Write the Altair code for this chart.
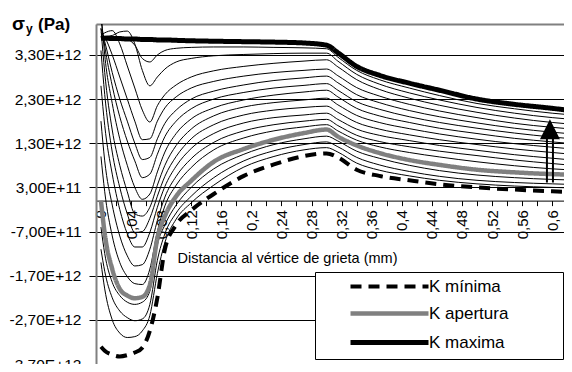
import altair as alt
import pandas as pd

# ---------------- data (stress in units of 1E+12 Pa) ----------------
x_mm = [0, 0.005, 0.015, 0.025, 0.035, 0.045, 0.055, 0.065, 0.075, 0.085, 0.10, 0.12, 0.15,
        0.19, 0.23, 0.27, 0.30, 0.315, 0.34, 0.37, 0.41, 0.45, 0.50, 0.55, 0.60, 0.62]

k_maxima = [3.67, 3.68, 3.67, 3.67, 3.66, 3.66, 3.65, 3.65, 3.64, 3.64, 3.63, 3.62, 3.61,
            3.60, 3.59, 3.57, 3.52, 3.35, 3.04, 2.84, 2.66, 2.50, 2.30, 2.18, 2.09, 2.05]
k_apertura = [0.0, -0.75, -1.55, -2.0, -2.15, -2.21, -2.18, -1.91, -0.85, -0.35, 0.10, 0.45, 0.88,
              1.17, 1.38, 1.53, 1.61, 1.45, 1.25, 1.08, 0.92, 0.81, 0.70, 0.64, 0.60, 0.59]
k_minima = [-3.31, -3.40, -3.49, -3.53, -3.50, -3.44, -3.33, -2.95, -2.20, -1.10, -0.55, -0.22, 0.15,
            0.56, 0.82, 1.01, 1.07, 0.98, 0.70, 0.56, 0.46, 0.37, 0.30, 0.25, 0.21, 0.20]

c1 = [3.70, 3.70, 3.70, 3.70, 3.66, 3.52, 3.22, 3.14, 3.30, 3.40, 3.45, 3.47, 3.48, 3.48, 3.47, 3.46, 3.44, 3.25, 2.95, 2.74, 2.55, 2.38, 2.20, 2.08, 1.98, 1.95]
c2 = [3.72, 3.72, 3.74, 3.82, 3.84, 3.55, 2.95, 2.60, 2.80, 2.98, 3.14, 3.22, 3.28, 3.31, 3.33, 3.34, 3.34, 3.16, 2.86, 2.64, 2.44, 2.28, 2.11, 1.98, 1.88, 1.85]
c3 = [3.75, 3.80, 3.85, 3.55, 3.05, 2.55, 2.05, 1.78, 2.15, 2.40, 2.62, 2.80, 2.94, 3.04, 3.11, 3.16, 3.19, 3.03, 2.74, 2.52, 2.32, 2.16, 2.00, 1.87, 1.77, 1.74]
c4 = [3.80, 3.70, 3.30, 2.80, 2.30, 1.80, 1.38, 1.40, 1.80, 2.10, 2.35, 2.55, 2.70, 2.82, 2.90, 2.95, 2.98, 2.83, 2.56, 2.37, 2.18, 2.03, 1.88, 1.75, 1.66, 1.63]
c5 = [3.90, 3.60, 2.90, 2.30, 1.80, 1.30, 0.93, 0.98, 1.40, 1.75, 2.05, 2.30, 2.48, 2.62, 2.72, 2.78, 2.82, 2.67, 2.40, 2.22, 2.04, 1.90, 1.76, 1.64, 1.55, 1.52]
c6 = [4.10, 3.50, 2.60, 1.90, 1.35, 0.90, 0.52, 0.60, 1.05, 1.45, 1.80, 2.08, 2.30, 2.45, 2.55, 2.61, 2.65, 2.50, 2.24, 2.07, 1.90, 1.77, 1.64, 1.53, 1.44, 1.41]
c7 = [4.30, 3.30, 2.20, 1.40, 0.80, 0.30, 0.03, 0.15, 0.65, 1.10, 1.52, 1.85, 2.10, 2.28, 2.39, 2.46, 2.50, 2.35, 2.09, 1.92, 1.77, 1.64, 1.52, 1.41, 1.33, 1.30]
c8 = [3.90, 2.90, 1.60, 0.80, 0.20, -0.30, -0.35, -0.15, 0.35, 0.80, 1.25, 1.62, 1.92, 2.12, 2.22, 2.28, 2.32, 2.17, 1.93, 1.77, 1.63, 1.51, 1.39, 1.29, 1.21, 1.18]
c9 = [3.40, 2.40, 1.10, 0.30, -0.30, -0.72, -0.70, -0.40, 0.10, 0.55, 1.00, 1.40, 1.72, 1.94, 2.05, 2.11, 2.14, 2.00, 1.77, 1.62, 1.49, 1.38, 1.27, 1.17, 1.09, 1.06]
c10 = [2.60, 1.70, 0.60, -0.20, -0.75, -1.05, -1.05, -0.72, -0.15, 0.32, 0.78, 1.18, 1.52, 1.76, 1.88, 1.94, 1.98, 1.84, 1.62, 1.48, 1.36, 1.25, 1.14, 1.04, 0.96, 0.93]
c11 = [1.80, 0.90, -0.10, -0.80, -1.25, -1.48, -1.45, -1.10, -0.45, 0.08, 0.55, 0.95, 1.32, 1.58, 1.72, 1.80, 1.84, 1.70, 1.48, 1.34, 1.22, 1.12, 1.02, 0.92, 0.84, 0.81]
c12 = [1.00, 0.20, -0.80, -1.40, -1.72, -1.88, -1.90, -1.55, -0.70, -0.12, 0.35, 0.75, 1.15, 1.42, 1.58, 1.67, 1.72, 1.58, 1.37, 1.22, 1.09, 0.99, 0.88, 0.79, 0.72, 0.70]
c13 = [-0.60, -1.20, -1.85, -2.15, -2.30, -2.35, -2.30, -2.05, -1.00, -0.55, -0.10, 0.30, 0.72, 1.05, 1.27, 1.40, 1.46, 1.35, 1.12, 0.96, 0.80, 0.68, 0.58, 0.52, 0.48, 0.47]
c14 = [-1.10, -1.60, -2.20, -2.50, -2.65, -2.72, -2.68, -2.35, -1.35, -0.75, -0.28, 0.10, 0.52, 0.90, 1.13, 1.27, 1.33, 1.22, 0.98, 0.81, 0.66, 0.55, 0.46, 0.41, 0.38, 0.37]
c15 = [-1.40, -2.00, -2.70, -3.00, -3.10, -3.08, -2.95, -2.60, -1.65, -0.95, -0.42, -0.05, 0.35, 0.76, 1.00, 1.15, 1.20, 1.10, 0.85, 0.69, 0.56, 0.46, 0.38, 0.33, 0.30, 0.29]

thin_curves = [c1, c2, c3, c4, c5, c6, c7, c8, c9, c10, c11, c12, c13, c14, c15]

series_names = ["K mínima", "K apertura", "K maxima"]

y_tick_values = [4.0, 3.3, 2.3, 1.3, 0.3, -0.7, -1.7, -2.7, -3.7]
y_tick_labels = ["", "3,30E+12", "2,30E+12", "1,30E+12", "3,00E+11", "-7,00E+11",
                 "-1,70E+12", "-2,70E+12", "-3,70E+12"]

x_tick_values = [0, 0.02, 0.04, 0.06, 0.08, 0.10, 0.12, 0.14, 0.16, 0.18, 0.20, 0.22, 0.24, 0.26,
                 0.28, 0.30, 0.32, 0.34, 0.36, 0.38, 0.40, 0.42, 0.44, 0.46, 0.48, 0.50, 0.52,
                 0.54, 0.56, 0.58, 0.60]
x_label_values = [0, 0.04, 0.08, 0.12, 0.16, 0.2, 0.24, 0.28, 0.32, 0.36, 0.4, 0.44, 0.48, 0.52, 0.56, 0.6]
x_label_texts = ["0", "0,04", "0,08", "0,12", "0,16", "0,2", "0,24", "0,28", "0,32", "0,36",
                 "0,4", "0,44", "0,48", "0,52", "0,56", "0,6"]

# arrow annotation (data coordinates)
arrow_shaft_x = [0.593, 0.601]
arrow_shaft_from = 0.41
arrow_shaft_to = 1.42
arrow_head_x = [0.597]
arrow_head_y = [1.615]

# ---------------- tables ----------------
thin_rows = []
for i, ys in enumerate(thin_curves):
    for xv, yv in zip(x_mm, ys):
        thin_rows.append({"x": xv, "y": yv, "curva": f"c{i + 1:02d}"})
thin_df = pd.DataFrame(thin_rows)

hl_rows = []
for name, ys in zip(series_names, [k_minima, k_apertura, k_maxima]):
    for xv, yv in zip(x_mm, ys):
        hl_rows.append({"x": xv, "y": yv, "serie": name})
hl_df = pd.DataFrame(hl_rows)

shaft_df = pd.DataFrame({"x": arrow_shaft_x, "y0": [arrow_shaft_from] * 2, "y1": [arrow_shaft_to] * 2})
head_df = pd.DataFrame({"x": arrow_head_x, "y": arrow_head_y})

FONT = "Liberation Sans"

x_scale = alt.Scale(domain=[-0.0066, 0.6157], nice=False, zero=False)
y_scale = alt.Scale(domain=[-3.7, 4.0], nice=False, zero=False)

y_label_expr = "".join(f"datum.value == {v} ? '{s}' : " for v, s in zip(y_tick_values, y_tick_labels)) + "''"
x_label_expr = "".join(f"datum.value == {v} ? '{s}' : " for v, s in zip(x_label_values, x_label_texts)) + "''"

PLOT_H = 340
zero_px = PLOT_H * 4.0 / 7.7

x_axis = alt.Axis(
    values=x_tick_values, tickCount=60, labelExpr=x_label_expr, labelAngle=270, labelFontSize=15,
    labelOverlap=False, labelBound=False, labelFlush=False,
    labelPadding=4, tickSize=5, tickColor="black", domainColor="black",
    domainWidth=1, grid=False, offset=-(PLOT_H - zero_px),
    title="Distancia al vértice de grieta (mm)", titleFontSize=14.5, titleFontWeight="normal",
    titleX=81, titleY=62, titleAlign="left", titleBaseline="alphabetic", titleAngle=0,
)
y_axis = alt.Axis(
    values=y_tick_values, tickCount=20, labelExpr=y_label_expr, labelFontSize=15.5, labelPadding=8,
    tickSize=7, tickColor={"condition": {"test": "datum.value == 4", "value": "transparent"}, "value": "black"},
    domainColor="#808080", domainWidth=2, grid=True, labelOverlap=False,
    gridColor={"condition": {"test": "datum.value == 4", "value": "#808080"}, "value": "black"},
    gridWidth={"condition": {"test": "datum.value == 4", "value": 2}, "value": 1},
    gridOpacity=1, title=None,
)

X = alt.X("x:Q", scale=x_scale, axis=x_axis)
Y = alt.Y("y:Q", scale=y_scale, axis=y_axis)

thin_layer = alt.Chart(thin_df).mark_line(
    color="black", strokeWidth=1, clip=True, interpolate="monotone"
).encode(x=X, y=Y, detail="curva:N")

BLANK = "\u2800"
legend = alt.Legend(
    title=None, orient="none", legendX=219, legendY=248, symbolType="M-7.8,0L7.8,0",
    symbolSize=100, labelFontSize=17, labelFont=FONT, labelColor="black", fillColor="white",
    strokeColor="black", padding=6, rowPadding=9, symbolOffset=60, labelOffset=31, zindex=1,
    labelExpr=f"datum.label + '{BLANK * 4}'",
)
color = alt.Color("serie:N", scale=alt.Scale(domain=series_names, range=["black", "#808080", "black"]), legend=legend)
dash = alt.StrokeDash("serie:N", scale=alt.Scale(domain=series_names, range=[[11, 7], [1, 0], [1, 0]]), legend=legend)
width_enc = alt.StrokeWidth("serie:N", scale=alt.Scale(domain=series_names, range=[4, 5, 4]), legend=legend)


def hl_layer(name):
    return alt.Chart(hl_df).transform_filter(alt.datum.serie == name).mark_line(
        clip=True, interpolate="monotone"
    ).encode(x=X, y=Y, color=color, strokeDash=dash, strokeWidth=width_enc)


shaft = alt.Chart(shaft_df).mark_rule(color="black", strokeWidth=2).encode(
    x=alt.X("x:Q", scale=x_scale), y=alt.Y("y0:Q", scale=y_scale), y2="y1:Q")
head = alt.Chart(head_df).mark_point(
    shape="M0,-1L1,1L-1,1Z", filled=True, size=400, color="black", opacity=1
).encode(x=alt.X("x:Q", scale=x_scale), y=alt.Y("y:Q", scale=y_scale))


def title_piece(text, x, y, size):
    return alt.Chart(pd.DataFrame({"t": [text]})).mark_text(
        align="left", baseline="alphabetic", fontSize=size, fontWeight="bold", font=FONT, color="black"
    ).encode(x=alt.value(x), y=alt.value(y), text="t:N")


chart = alt.layer(
    thin_layer,
    hl_layer("K mínima"),
    hl_layer("K apertura"),
    hl_layer("K maxima"),
    shaft,
    head,
    title_piece("σ", -84, 6, 19),
    title_piece("y", -70, 9, 12),
    title_piece("(Pa)", -58, 6, 17),
).properties(
    width=468, height=PLOT_H,
    autosize=alt.AutoSizeParams(type="none"),
    padding={"left": 88, "top": 16, "right": 0, "bottom": 0},
).configure_view(strokeWidth=0).configure_axis(
    labelFont=FONT, titleFont=FONT, labelColor="black", titleColor="black"
).configure(font=FONT)

chart.save("out.html", embed_options={"renderer": "svg", "actions": False})
